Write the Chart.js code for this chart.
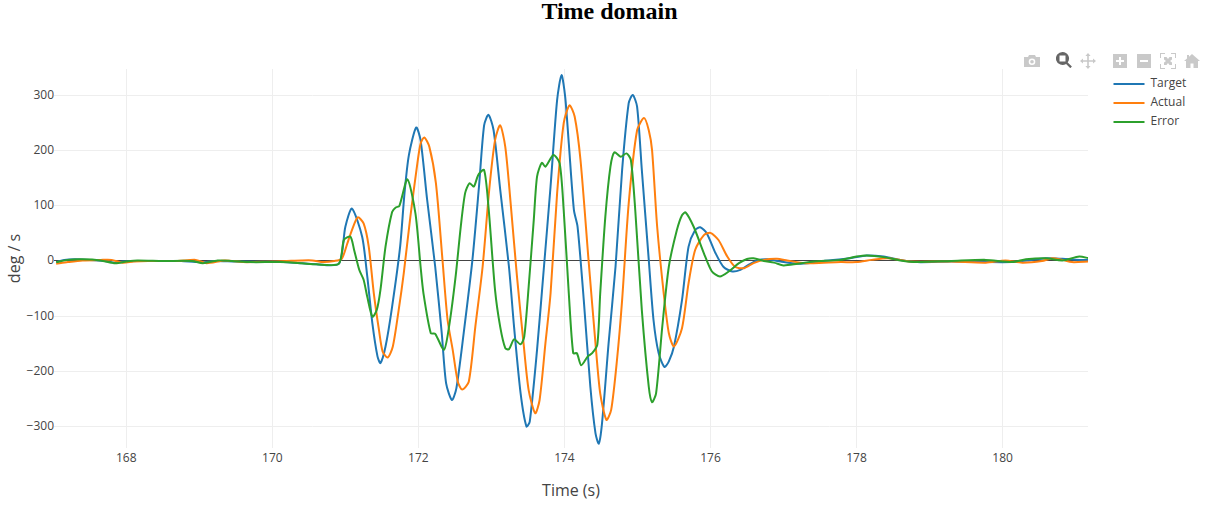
<!DOCTYPE html>
<html><head><meta charset="utf-8">
<script src="https://cdn.jsdelivr.net/npm/chart.js@4"></script>
<style>
html,body{margin:0;padding:0;background:#fff;overflow:hidden}
#wrap{position:relative;width:1206px;height:511px}
canvas{display:block}
svg.ic{position:absolute;width:16px;height:16px;fill:#c9c9c9}
</style></head><body>
<div id="wrap"><canvas id="c" width="1206" height="511"></canvas>
<svg class="ic" style="left:1024px;top:53px" viewBox="0 0 16 16"><path fill-rule="evenodd" d="M0 4h4l1-2h6l1 2h4v10H0zM8 5.5a3.3 3.3 0 1 0 0 6.6a3.3 3.3 0 0 0 0-6.6zM8 7a1.8 1.8 0 1 1 0 3.6a1.8 1.8 0 0 1 0-3.6z"/></svg>
<svg class="ic" style="left:1056px;top:52px;fill:#666" viewBox="0 0 16 16"><path fill-rule="evenodd" d="M6.5 0a6.5 6.5 0 0 1 5.2 10.4l4.2 4.2l-1.6 1.6l-4.2-4.3A6.5 6.5 0 1 1 6.5 0zM3.5 3.5v6h6v-6z"/></svg>
<svg class="ic" style="left:1080px;top:53px" viewBox="0 0 16 16"><path d="M8 0l2.6 3H8.8v4.2H13V5.4L16 8l-3 2.6V8.8H8.8V13h1.8L8 16l-2.6-3h1.8V8.8H3v1.8L0 8l3-2.6v1.8h4.2V3H5.4z"/></svg>
<svg class="ic" style="left:1112px;top:53px" viewBox="0 0 16 16"><path fill-rule="evenodd" d="M1 1h14v14H1zM7 4v3H4v2h3v3h2V9h3V7H9V4z"/></svg>
<svg class="ic" style="left:1136px;top:53px" viewBox="0 0 16 16"><path fill-rule="evenodd" d="M1 1h14v14H1zM4 7v2h8V7z"/></svg>
<svg class="ic" style="left:1160px;top:53px" viewBox="0 0 16 16"><path d="M0 0h5v1H1v4H0zM11 0h5v5h-1V1h-4zM0 11h1v4h4v1H0zM15 11h1v5h-5v-1h4zM4 4h2.5L8 6l1.5-2H12v2.5L10 8l2 1.5V12H9.500L8 10l-1.500 2H4V9.500L6 8L4 6.500z"/></svg>
<svg class="ic" style="left:1184px;top:53px" viewBox="0 0 16 16"><path d="M8 1l8 7h-2v7H9.500v-4.500h-3V15H2V8H0l3-2.600V2h2v1.700z"/></svg>
</div>
<script>
const chartTitle = "Time domain";
const xAxisTitle = "Time (s)";
const yAxisTitle = "deg / s";
const seriesNames = ["Target", "Actual", "Error"];
const xTickStep = 2;
const yTickStep = 100;

const targetTime = [167.04,167.15,167.3,167.5,167.7,167.85,167.95,168.15,168.5,168.75,168.95,169.1,169.2,169.5,170,170.3,170.6,170.91,171.0,171.09,171.23,171.30,171.37,171.44,171.48,171.55,171.64,171.75,171.81,171.87,171.97,172.03,172.12,172.23,172.32,172.38,172.46,172.52,172.62,172.74,172.83,172.90,172.96,173.03,173.12,173.24,173.31,173.40,173.48,173.525,173.625,173.72,173.81,173.90,173.96,174.01,174.06,174.13,174.18,174.265,174.355,174.425,174.47,174.515,174.605,174.70,174.79,174.88,174.935,174.995,175.06,175.155,175.22,175.29,175.37,175.43,175.50,175.61,175.70,175.79,175.86,175.95,176.07,176.18,176.30,176.41,176.52,176.64,176.78,176.96,177.19,177.41,177.5,177.91,178.14,178.37,178.6,178.83,179.3,179.77,180.13,180.36,180.59,180.82,181.05,181.18];
const targetValues = [-2,2,3,2,0,-3,-1,0,0,0,-2,-2,0,-1,-1.5,-3,-6,-5,62,95,44,-28,-113,-173,-185,-155,-83,26,123,192,242,219,111,-10,-131,-222,-252,-231,-131,2,135,246,265,237,130,-10,-119,-240,-300,-291,-161,-10,135,292,337,298,213,92,62,-71,-228,-312,-331,-294,-149,-10,165,286,301,280,165,2,-107,-167,-192,-182,-155,-71,26,56,61,50,14,-11,-19,-16,-7,1,3,-1,-5,-3,-1,5,10,8,2,-2,-1,-2,-2,1,5,4,2,2];

const actualTime = [167.04,167.2,167.4,167.65,167.8,167.95,168.1,168.3,168.7,168.95,169.1,169.35,169.6,169.9,170.2,170.4,170.55,170.7,170.85,170.95,171.02,171.09,171.17,171.25,171.32,171.39,171.46,171.51,171.58,171.65,171.73,171.80,171.89,171.98,172.03,172.08,172.15,172.24,172.33,172.40,172.47,172.54,172.60,172.69,172.78,172.88,172.97,173.05,173.12,173.19,173.26,173.35,173.44,173.51,173.60,173.66,173.74,173.81,173.90,173.99,174.07,174.14,174.22,174.33,174.425,174.49,174.575,174.64,174.72,174.79,174.88,174.995,175.09,175.155,175.20,175.27,175.36,175.43,175.50,175.61,175.70,175.79,175.91,176.0,176.11,176.23,176.34,176.46,176.59,176.73,176.91,177.05,177.23,177.41,177.78,178.0,178.21,178.42,178.6,178.74,179.3,179.77,180.04,180.27,180.54,180.68,180.82,180.95,181.18];
const actualValues = [-5,-2,1,2,2,-3,-1,0,0,2,-4,1,-2,-1.5,0,1,1,-2,0,4,29,56,79,68,26,-59,-125,-164,-175,-155,-89,-22,80,171,213,224,207,141,2,-107,-161,-219,-233,-219,-119,-10,129,219,246,207,110,-28,-149,-234,-276,-252,-149,-59,123,250,282,262,183,2,-149,-240,-288,-270,-179,-71,104,237,259,237,201,62,-59,-131,-155,-122,-40,20,47,51,38,8,-11,-13,-4,2,4,1,-3,-4,-2,-2,2,5,2,-1,-1,-3,1,-3,0,5,2,-2,-1];

const errorTime = [167.04,167.2,167.4,167.65,167.85,168.0,168.15,168.5,168.9,169.05,169.25,169.45,169.7,170.1,170.4,170.6,170.91,170.98,171.07,171.12,171.19,171.25,171.30,171.37,171.43,171.48,171.55,171.64,171.69,171.74,171.85,171.96,172.03,172.07,172.17,172.23,172.35,172.42,172.51,172.58,172.64,172.70,172.76,172.82,172.90,172.96,173.05,173.12,173.19,173.24,173.31,173.40,173.45,173.51,173.58,173.625,173.69,173.74,173.85,173.935,173.99,174.06,174.12,174.17,174.23,174.32,174.38,174.45,174.49,174.56,174.63,174.685,174.77,174.85,174.91,174.97,175.06,175.155,175.20,175.255,175.34,175.43,175.54,175.61,175.66,175.77,175.91,176.02,176.13,176.25,176.39,176.50,176.59,176.73,176.87,177.0,177.19,177.41,177.78,178.0,178.14,178.37,178.6,178.83,179.3,179.77,180.13,180.32,180.59,180.82,181.05,181.18];
const errorValues = [-2,2,3,1,-4,-1,1,0,0,-4,1,0,-2,-2,-4,-6,-5,38,44,20,-16,-34,-65,-101,-89,-53,26,89,97,100,148,86,-10,-59,-131,-132,-161,-119,-28,62,123,141,135,156,165,98,-53,-119,-158,-160,-142,-151,-137,-47,74,153,178,171,192,177,92,-59,-167,-167,-189,-173,-167,-152,-59,80,171,197,189,195,183,92,-89,-228,-256,-240,-119,-10,56,83,88,62,14,-19,-28,-19,-4,3.6,5,0,-3,-8,-5,-1,2,8,10,7,1,-2,0,2,-2,3,5,1,8,5];

const pairs = (t, v) => t.map((x, i) => ({x, y: v[i]}));
const FONT = "'Open Sans', sans-serif";
const plotPlugin = {
  id: 'plotPlugin',
  afterInit(chart) {
    const fit = chart.legend.fit;
    chart.legend.fit = function () { fit.call(this); this.width = 118; };
  },
  afterLayout(chart) {
    chart.legend.left = 1106.5;
    chart.legend.top = 71;
    chart.titleBlock.left = 13;
    chart.titleBlock.right = 1206;
    chart.titleBlock.top = 0.5;
  }
};
const line = (name, t, v, color, order) => ({
  label: name, data: pairs(t, v), borderColor: color, backgroundColor: color,
  borderWidth: 2, pointRadius: 0, tension: 0.25, order
});
const canvas = document.getElementById('c');
canvas.getContext('2d', { alpha: false });
new Chart(canvas, {
  type: 'line',
  plugins: [plotPlugin, {id:'bg', beforeDraw(ch){const c=ch.ctx;c.save();c.fillStyle='#fff';c.fillRect(0,0,ch.width,ch.height);c.restore();}}],
  data: { datasets: [
    line(seriesNames[0], targetTime, targetValues, '#1f77b4', 3),
    line(seriesNames[1], actualTime, actualValues, '#ff7f0e', 2),
    line(seriesNames[2], errorTime, errorValues, '#2ca02c', 1)
  ]},
  options: {
    responsive: false, animation: false, devicePixelRatio: 1,
    layout: { padding: 0 },
    plugins: {
      title: { display: true, text: chartTitle, color: '#000',
        font: { family: "'Liberation Serif', serif", size: 24, weight: 'bold', lineHeight: 1 },
        padding: { top: 0, bottom: 45 } },
      legend: { display: true, position: 'right', align: 'start',
        labels: { usePointStyle: true, pointStyle: 'line', pointStyleWidth: 31, padding: 7,
          sort: (a, b) => a.datasetIndex - b.datasetIndex,
          color: '#444', font: { family: FONT, size: 12 } } },
      tooltip: { enabled: false }
    },
    scales: {
      x: { type: 'linear', min: 167.01, max: 181.17,
        afterFit(s) { s.height = 63; },
        border: { display: false },
        grid: { color: '#eeeeee', lineWidth: 1, drawTicks: false },
        ticks: { stepSize: xTickStep, includeBounds: false, maxRotation: 0, padding: 3, color: '#444',
          font: { family: FONT, size: 12 }, callback: v => String(v) },
        title: { display: true, text: xAxisTitle, color: '#444', font: { family: FONT, size: 16 },
          padding: { top: 10, bottom: 10 } } },
      y: { type: 'linear', min: -339, max: 348,
        afterFit(s) { s.width = 54; },
        border: { display: false },
        grid: { color: c => c.tick && c.tick.value === 0 ? '#444444' : '#eeeeee', lineWidth: 1, drawTicks: false },
        ticks: { stepSize: yTickStep, includeBounds: false, padding: 0, color: '#444',
          font: { family: FONT, size: 12 }, callback: v => v < 0 ? '\u2212' + Math.abs(v) : String(v) },
        title: { display: true, text: yAxisTitle, color: '#444', font: { family: FONT, size: 16 },
          padding: { top: 5.4, bottom: 0 } } }
    }
  }
});
</script></body></html>
